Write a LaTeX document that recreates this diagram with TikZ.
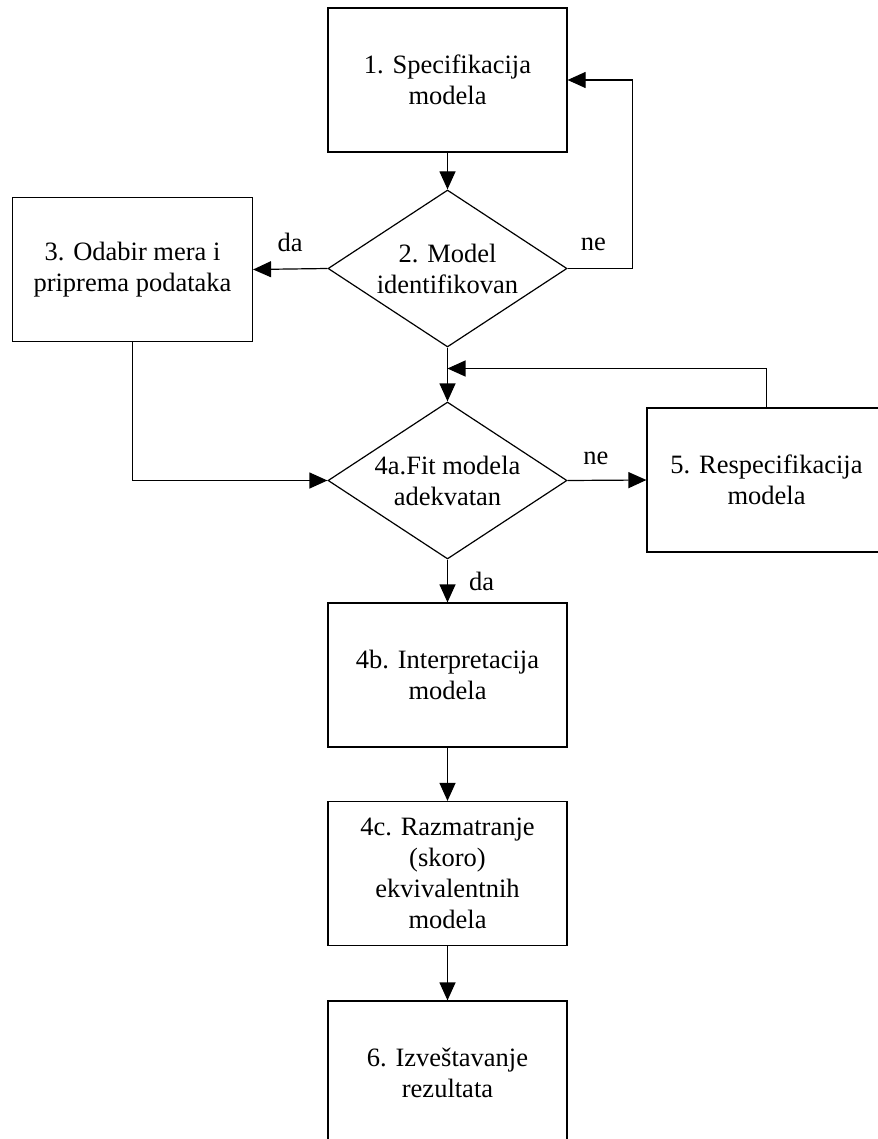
\documentclass[tikz,border=0pt]{standalone}
\usepackage{fontspec}
\setmainfont{Liberation Serif}
\usetikzlibrary{arrows.meta, positioning, shapes.geometric}
\newcommand{\flowfont}{\fontsize{13.25}{15.5}\selectfont}

\begin{document}
\begin{tikzpicture}[x=0.5pt, y=-0.5pt,
  box/.style={draw, line width=0.6pt, rectangle, minimum width=119.5pt,
    minimum height=72pt, inner sep=0pt, align=center, font=\flowfont},
  decision/.style={draw, line width=0.6pt, diamond, aspect=1.53,
    minimum width=119.5pt, minimum height=78.5pt, inner sep=0pt,
    align=center, font=\flowfont},
  arr/.style={line width=0.6pt, -{Triangle[length=9pt, width=8pt]}},
  lbl/.style={font=\flowfont, inner sep=2pt}]
  \useasboundingbox (0,0) rectangle (877,1139);

  % steps of the procedure
  \node[box] (spec) at (447.5,80) {1. Specifikacija\\modela};
  \node[decision] (ident) at (447.5,268.5) {2. Model\\identifikovan};
  \node[box, minimum width=120pt] (odabir) at (132.5,269.5) {3. Odabir mera i\\priprema podataka};
  \node[decision] (fit) at (447.5,480.5) {4a.Fit modela\\adekvatan};
  \node[box] (respec) at (766.5,480) {5. Respecifikacija\\modela};
  \node[box] (interp) at (447.5,675) {4b. Interpretacija\\modela};
  \node[box] (razm) at (447.5,873.5) {4c. Razmatranje\\(skoro)\\ekvivalentnih\\modela};
  \node[box] (izvest) at (447.5,1073) {6. Izveštavanje\\rezultata};
  \coordinate (merge) at (447.5,368.5);

  % connectors
  \draw[arr] (spec) -- (ident);
  \draw[arr] (ident.west) -- (odabir.east) node[lbl, midway, above=6.5pt] {da};
  \draw[arr] (ident.east) -- ++(64.5,0) node[lbl, pos=0.4, above=6.5pt] {ne} |- (spec.east);
  \draw[arr] (ident.south) -- (fit.north);
  \draw[arr] (respec.north) |- (merge);
  \draw[arr] (odabir.south) |- (fit.west);
  \draw[arr] (fit.east) -- (respec.west) node[lbl, pos=0.36, above=5.5pt] {ne};
  \draw[arr] (fit.south) -- (interp.north) node[lbl, midway, right=8.5pt] {da};
  \draw[arr] (interp) -- (razm);
  \draw[arr] (razm) -- (izvest);
\end{tikzpicture}
\end{document}
